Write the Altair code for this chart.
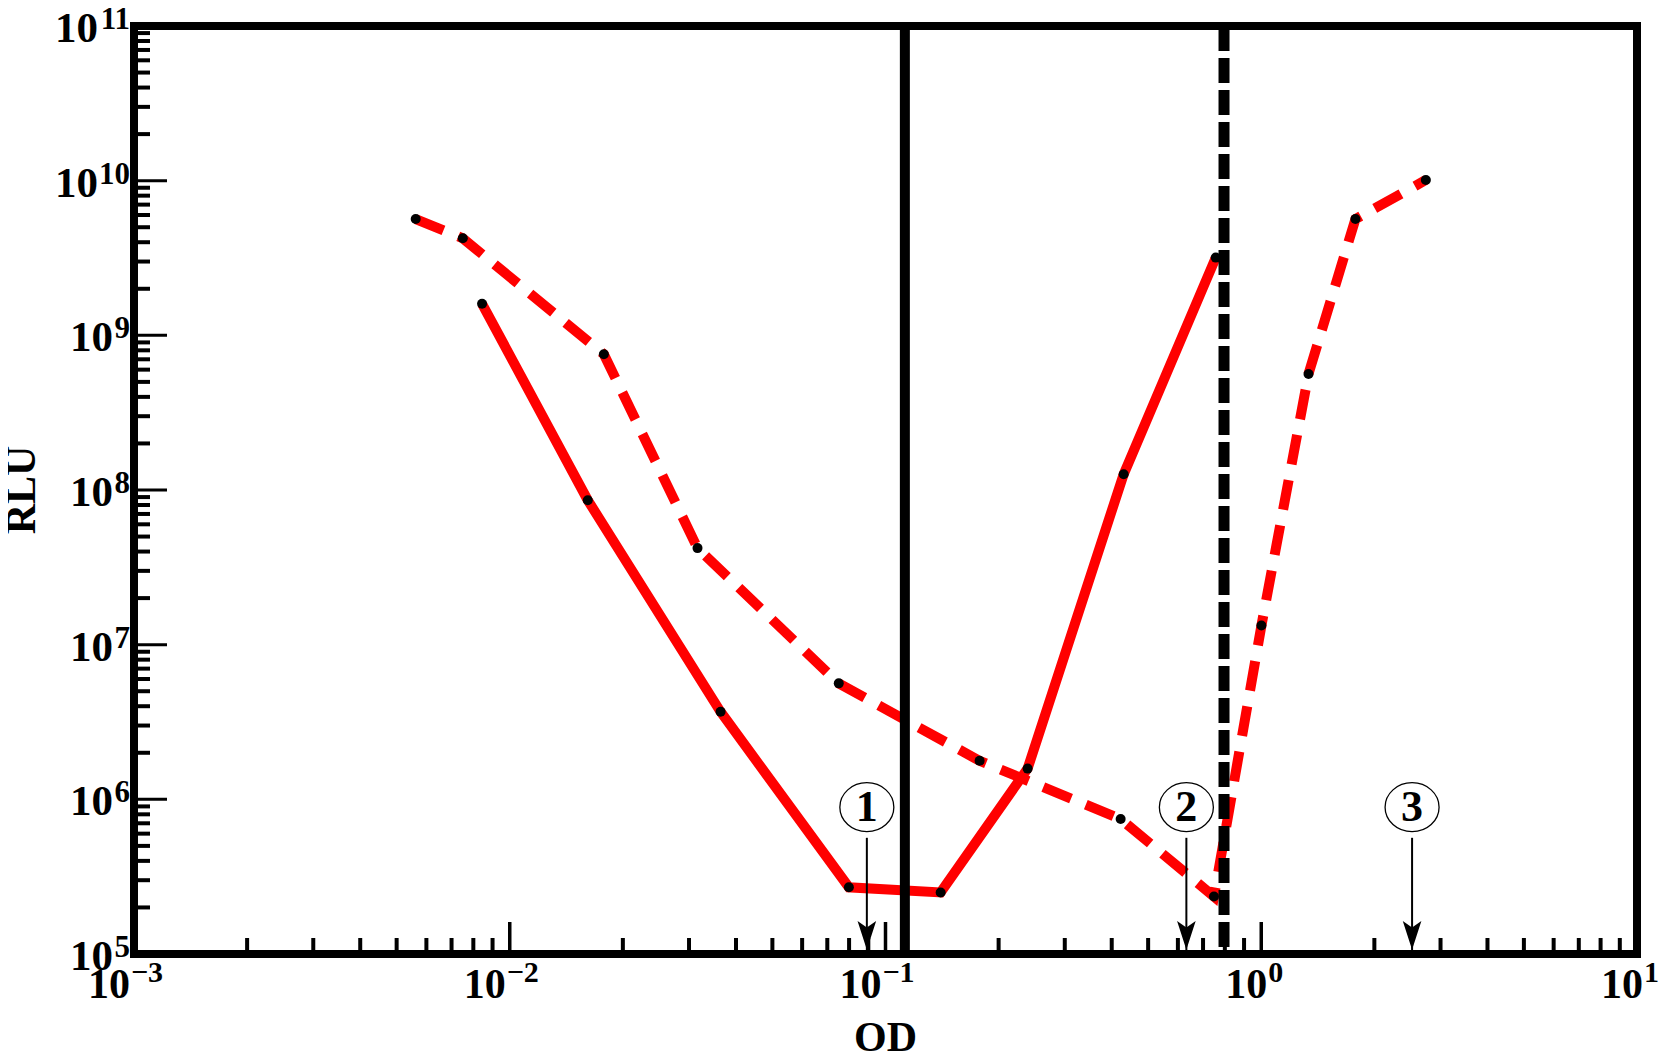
import altair as alt
import pandas as pd

# ---------------- data ----------------
solid_od = [0.00844, 0.01613, 0.0364, 0.0799, 0.1402, 0.2389, 0.4304, 0.7567]
solid_rlu = [1.60e9, 8.59e7, 3.68e6, 2.70e5, 2.50e5, 1.58e6, 1.265e8, 3.18e9]

dashed_od = [0.00562, 0.00750, 0.0178, 0.0316, 0.0751, 0.178, 0.4225, 0.7485,
             1.001, 1.336, 1.781, 2.742]
dashed_rlu = [5.65e9, 4.24e9, 7.55e8, 4.21e7, 5.62e6, 1.774e6, 7.46e5, 2.353e5,
              1.329e7, 5.63e8, 5.65e9, 1.01e10]

vline_solid_od = [0.1126]
vline_dashed_od = [0.796]

arrow_od = [0.0892, 0.632, 2.52]
arrow_text = ["1", "2", "3"]
arrow_top_rlu = [5.64e5, 5.64e5, 5.64e5]
marker_rlu = [8.9e5, 8.9e5, 8.9e5]

x_exps = [-3, -2, -1, 0, 1]
x_sup = ["\u22123", "\u22122", "\u22121", "0", "1"]
y_exps = [5, 6, 7, 8, 9, 10, 11]
y_sup = ["5", "6", "7", "8", "9", "10", "11"]

x_title = ["OD"]
y_title = ["RLU"]

# ---------------- layout ----------------
W, H = 1503, 928
FONT = "Liberation Serif"
XS = alt.Scale(type="log", domain=[1e-3, 10], nice=False)
YS = alt.Scale(type="log", domain=[1e5, 1e11], nice=False)

x_minor = [m * 10.0 ** k for k in range(-3, 1) for m in range(2, 10)]
x_major = [10.0 ** k for k in range(-2, 1)]
y_minor = [m * 10.0 ** k for k in range(5, 11) for m in range(2, 10)]
y_major = [10.0 ** k for k in range(6, 11)]

df_solid = pd.DataFrame({"od": solid_od, "rlu": solid_rlu})
df_dashed = pd.DataFrame({"od": dashed_od, "rlu": dashed_rlu})
df_dots = pd.concat([df_solid, df_dashed], ignore_index=True)
df_arrow = pd.DataFrame({"od": arrow_od, "lab": arrow_text, "top": arrow_top_rlu,
                         "bot": [1e5] * len(arrow_od), "mk": marker_rlu})
df_xl = pd.DataFrame({"v": [10.0 ** e for e in x_exps], "e": x_exps, "sup": x_sup})
df_yl = pd.DataFrame({"v": [10.0 ** e for e in y_exps], "e": y_exps, "sup": y_sup})

X = lambda f: alt.X(f, scale=XS, axis=None)
Y = lambda f: alt.Y(f, scale=YS, axis=None)

# ticks (inward)
t_xmin = alt.Chart(pd.DataFrame({"v": x_minor})).mark_rule(color="black", strokeWidth=4).encode(
    x=X("v:Q"), y=alt.value(H), y2=alt.value(H - 16))
t_xmaj = alt.Chart(pd.DataFrame({"v": x_major})).mark_rule(color="black", strokeWidth=3.5).encode(
    x=X("v:Q"), y=alt.value(H), y2=alt.value(H - 32))
t_ymin = alt.Chart(pd.DataFrame({"v": y_minor})).mark_rule(color="black", strokeWidth=4).encode(
    y=Y("v:Q"), x=alt.value(0), x2=alt.value(16))
t_ymaj = alt.Chart(pd.DataFrame({"v": y_major})).mark_rule(color="black", strokeWidth=3).encode(
    y=Y("v:Q"), x=alt.value(0), x2=alt.value(33))

# red curves
l_solid = alt.Chart(df_solid).mark_line(color="#ff0000", strokeWidth=10, strokeJoin="miter").encode(
    x=X("od:Q"), y=Y("rlu:Q"))
l_dashed = alt.Chart(df_dashed).mark_line(color="#ff0000", strokeWidth=10, strokeJoin="miter",
                                          strokeDash=[30, 16]).encode(x=X("od:Q"), y=Y("rlu:Q"))

# black vertical lines
v_solid = alt.Chart(pd.DataFrame({"od": vline_solid_od})).mark_rule(color="black", strokeWidth=10).encode(
    x=X("od:Q"), y=alt.value(0), y2=alt.value(H))
v_dashed = alt.Chart(pd.DataFrame({"od": vline_dashed_od})).mark_rule(
    color="black", strokeWidth=11, strokeDash=[25, 7]).encode(x=X("od:Q"), y=alt.value(0), y2=alt.value(H))

# dots
dots = alt.Chart(df_dots).mark_circle(color="black", size=100, opacity=1).encode(x=X("od:Q"), y=Y("rlu:Q"))

# arrows
shaft = alt.Chart(df_arrow).mark_rule(color="black", strokeWidth=2).encode(
    x=X("od:Q"), y=Y("top:Q"), y2="bot:Q")
HEAD = "M0,-0.14L-0.31,-1.1L0,-0.88L0.31,-1.1Z"
head = alt.Chart(df_arrow).mark_point(shape=HEAD, filled=True, color="black", size=3600,
                                      opacity=1, strokeWidth=0).encode(x=X("od:Q"), y=alt.value(H))
ELL = ("M1,0C1,0.5004 0.5523,0.906 0,0.906C-0.5523,0.906 -1,0.5004 -1,0"
       "C-1,-0.5004 -0.5523,-0.906 0,-0.906C0.5523,-0.906 1,-0.5004 1,0Z")
ell = alt.Chart(df_arrow).mark_point(shape=ELL, filled=True, fill="white", stroke="black",
                                     strokeWidth=1.3, size=2916, opacity=1, fillOpacity=1,
                                     strokeOpacity=1).encode(x=X("od:Q"), y=Y("mk:Q"))
ell_txt = alt.Chart(df_arrow).mark_text(font=FONT, fontSize=44, fontWeight="bold", align="center",
                                        baseline="alphabetic", dy=14, color="black").encode(
    x=X("od:Q"), y=Y("mk:Q"), text="lab:N")

# x tick labels: "10" + superscript
def xlab(neg):
    base = alt.Chart(df_xl).transform_filter("datum.e < 0" if neg else "datum.e >= 0")
    j = -4 if neg else 6
    ten = base.mark_text(font=FONT, fontSize=42, fontWeight="bold", align="right",
                         baseline="alphabetic", dx=j, dy=44, color="black").encode(
        x=X("v:Q"), y=alt.value(H), text=alt.value("10"))
    sup = base.mark_text(font=FONT, fontSize=30, fontWeight="bold", align="left",
                         baseline="alphabetic", dx=j + 1, dy=28, color="black").encode(
        x=X("v:Q"), y=alt.value(H), text="sup:N")
    return [ten, sup]

def ylab(two):
    base = alt.Chart(df_yl).transform_filter("datum.e >= 10" if two else "datum.e < 10")
    xr = -36 if two else -21
    ten = base.mark_text(font=FONT, fontSize=43, fontWeight="bold", align="right",
                         baseline="alphabetic", dy=16, color="black").encode(
        y=Y("v:Q"), x=alt.value(xr), text=alt.value("10"))
    sup = base.mark_text(font=FONT, fontSize=31, fontWeight="bold", align="right",
                         baseline="alphabetic", dy=3, color="black").encode(
        y=Y("v:Q"), x=alt.value(-4), text="sup:N")
    return [ten, sup]

t_x = alt.Chart(pd.DataFrame({"t": x_title})).mark_text(
    font=FONT, fontSize=42, fontWeight="bold", align="center", baseline="alphabetic", color="black").encode(
    x=alt.value(W / 2), y=alt.value(H + 97), text="t:N")
t_y = alt.Chart(pd.DataFrame({"t": y_title})).mark_text(
    font=FONT, fontSize=42, fontWeight="bold", align="center", baseline="alphabetic", angle=270,
    color="black").encode(x=alt.value(-99), y=alt.value(H / 2), text="t:N")

layers = [t_xmin, t_xmaj, t_ymin, t_ymaj, l_solid, l_dashed, v_solid, v_dashed, dots,
          shaft, head, ell, ell_txt] + xlab(True) + xlab(False) + ylab(True) + ylab(False) + [t_x, t_y]

chart = alt.layer(*layers).properties(
    width=W, height=H,
    autosize=alt.AutoSizeParams(type="none"),
    padding={"left": 126, "top": 18, "right": 22, "bottom": 100},
).configure_view(stroke="black", strokeWidth=8)

chart.save("out.html", embed_options={"renderer": "svg", "actions": False})
